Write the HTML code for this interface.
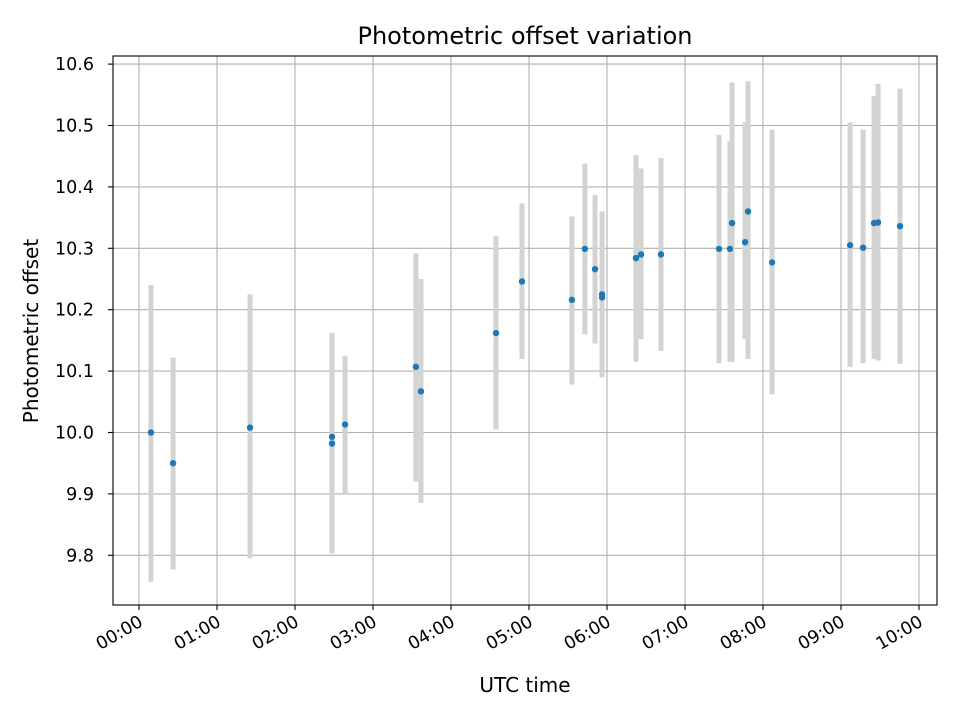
<!DOCTYPE html>
<html><head><meta charset="utf-8"><style>
html,body{margin:0;padding:0;background:#fff;}
svg{display:block;font-family:"DejaVu Sans","Liberation Sans",sans-serif;}
</style></head><body>
<svg id="chart" width="960" height="720" viewBox="0 0 960 720">
<rect width="960" height="720" fill="#fff"/>
<g id="grid"></g>
<g id="errs"></g>
<g id="pts"></g>
<rect x="113" y="56" width="824" height="549" fill="none" stroke="#000" stroke-width="1.1"/>
<g id="xt"></g>
<g id="yt"></g>
<text x="525" y="44" text-anchor="middle" font-size="24">Photometric offset variation</text>
<text x="525" y="692" text-anchor="middle" font-size="20">UTC time</text>
<text transform="translate(38,331) rotate(-90)" text-anchor="middle" font-size="20">Photometric offset</text>
</svg>
<script>
const timesMin=[9.2,26.2,85.4,148.5,148.5,158.5,213,216.9,274.6,294.6,333,343,350.8,356.2,356.2,382.3,386.2,401.5,446.2,454.6,456.2,466.2,468.5,487,547,557,565.4,568.5,585.4];
const offsets=[10.0,9.95,10.008,9.993,9.982,10.013,10.107,10.067,10.162,10.246,10.216,10.299,10.266,10.225,10.22,10.284,10.29,10.29,10.299,10.299,10.341,10.31,10.36,10.277,10.305,10.301,10.341,10.342,10.336];
const upper=[10.24,10.122,10.225,10.162,10.162,10.125,10.292,10.25,10.32,10.373,10.352,10.438,10.387,10.36,10.36,10.452,10.43,10.447,10.485,10.475,10.57,10.505,10.572,10.493,10.505,10.493,10.548,10.568,10.56];
const lower=[9.757,9.777,9.795,9.803,9.803,9.9,9.92,9.885,10.005,10.12,10.078,10.16,10.145,10.09,10.09,10.115,10.152,10.133,10.113,10.115,10.115,10.152,10.12,10.062,10.107,10.113,10.12,10.117,10.112];
const xTickLabels=["00:00","01:00","02:00","03:00","04:00","05:00","06:00","07:00","08:00","09:00","10:00"];
const yTickValues=[9.8,9.9,10.0,10.1,10.2,10.3,10.4,10.5,10.6];
const NS="http://www.w3.org/2000/svg";
function X(m){return 139+m*78/60;}
function Y(v){return 432.5-(v-10)*614;}
function mk(tag,attrs,parent){const e=document.createElementNS(NS,tag);for(const k in attrs)e.setAttribute(k,attrs[k]);parent.appendChild(e);return e;}
const grid=document.getElementById('grid'),xt=document.getElementById('xt'),yt=document.getElementById('yt');
xTickLabels.forEach((lab,i)=>{
 const x=X(i*60);
 const g=mk('line',{x1:x,x2:x,y1:56,y2:605,stroke:'#b0b0b0','stroke-width':1.1},grid);
 
 
 const t=mk('line',{x1:x,x2:x,y1:605,y2:610,stroke:'#000','stroke-width':1.1},xt);
 
 
 const tx=mk('text',{x:0,y:0,'font-size':17.5,'text-anchor':'end',transform:`translate(${x+5},${625}) rotate(-30)`},xt);
 tx.textContent=lab;
 
 
});
yTickValues.forEach(v=>{
 const y=Y(v);
 const g=mk('line',{x1:113,x2:937,y1:y,y2:y,stroke:'#b0b0b0','stroke-width':1.1},grid);
 
 
 const t=mk('line',{x1:108,x2:113,y1:y,y2:y,stroke:'#000','stroke-width':1.1},yt);
 
 
 const tx=mk('text',{x:94,y:y+6,'font-size':17.5,'text-anchor':'end'},yt);
 tx.textContent=v.toFixed(1);
 
 
});
const errs=document.getElementById('errs'),pts=document.getElementById('pts');
timesMin.forEach((m,i)=>{
 const x=X(m);
 const e=mk('line',{x1:x,x2:x,y1:Y(upper[i]),y2:Y(lower[i]),stroke:'#d3d3d3','stroke-width':5},errs);
 
 
});
timesMin.forEach((m,i)=>{
 const c=mk('circle',{cx:X(m),cy:Y(offsets[i]),r:3.2,fill:'#1f77b4'},pts);
 
 
});
</script>
</body></html>
